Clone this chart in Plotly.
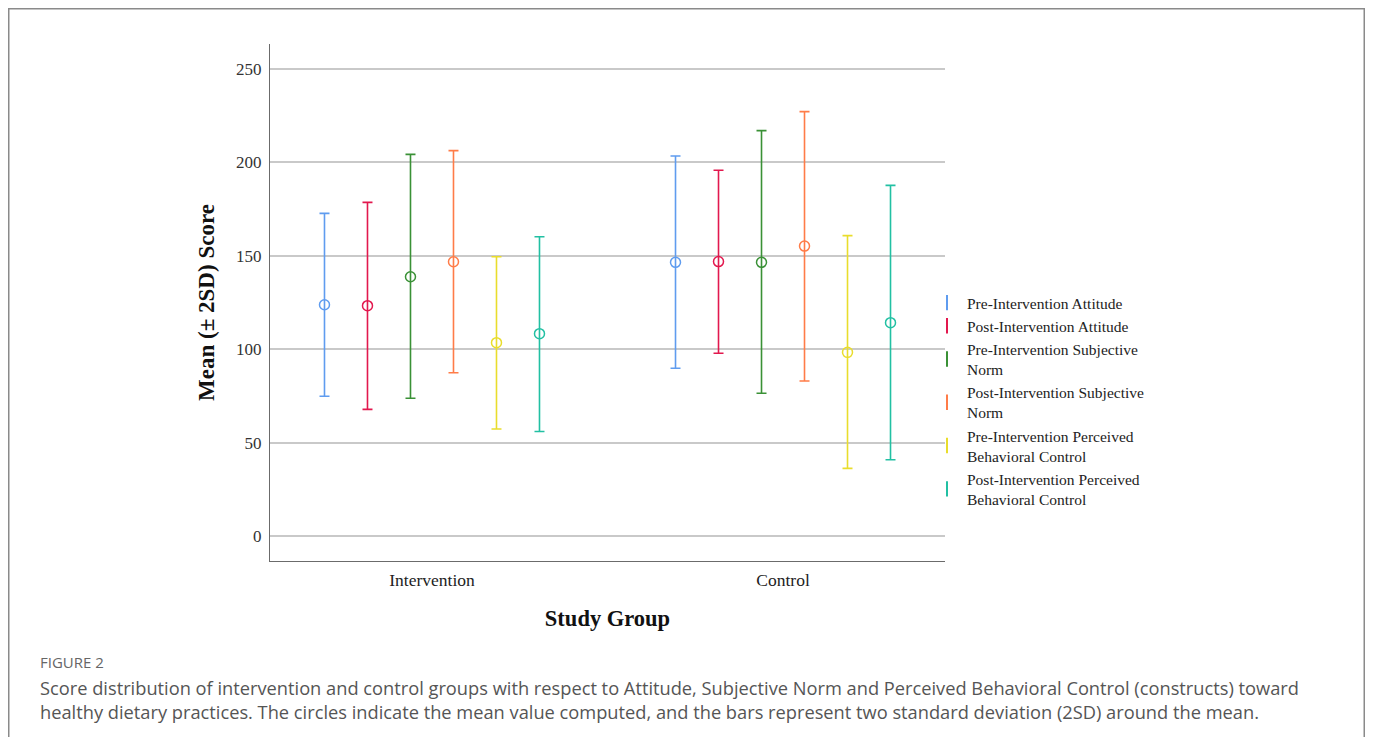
import plotly.graph_objects as go

groups = ["Intervention", "Control"]
series = [
    "Pre-Intervention Attitude",
    "Post-Intervention Attitude",
    "Pre-Intervention Subjective Norm",
    "Post-Intervention Subjective Norm",
    "Pre-Intervention Perceived Behavioral Control",
    "Post-Intervention Perceived Behavioral Control",
]
legend_labels = [
    "Pre-Intervention Attitude",
    "Post-Intervention Attitude",
    "Pre-Intervention Subjective<br>Norm",
    "Post-Intervention Subjective<br>Norm",
    "Pre-Intervention Perceived<br>Behavioral Control",
    "Post-Intervention Perceived<br>Behavioral Control",
]
colors = ["#5f9cef", "#e2184e", "#3a9136", "#ff7c48", "#e9dd2c", "#22c0a3"]

# [Intervention, Control]
means = [
    [123.8, 146.5],
    [123.3, 146.9],
    [138.8, 146.5],
    [146.8, 155.2],
    [103.5, 98.3],
    [108.3, 114.2],
]
uppers = [
    [172.7, 203.4],
    [178.6, 195.8],
    [204.3, 217.0],
    [206.3, 227.2],
    [149.5, 160.8],
    [160.2, 187.7],
]
lowers = [
    [74.8, 89.8],
    [67.8, 97.8],
    [73.7, 76.4],
    [87.4, 83.0],
    [57.3, 36.2],
    [55.9, 40.8],
]

y_ticks = [0, 50, 100, 150, 200, 250]
caption_title = "FIGURE 2"
caption_text = ("Score distribution of intervention and control groups with respect to Attitude, Subjective Norm and "
                "Perceived Behavioral Control (constructs) toward<br>healthy dietary practices. The circles indicate the "
                "mean value computed, and the bars represent two standard deviation (2SD) around the mean.")

SERIF = "Liberation Serif, Times New Roman, serif"
SANS = "Open Sans, Noto Sans, sans-serif"
offset_step = 0.1225

fig = go.Figure()
n = len(series)
for i in range(n):
    off = (i - (n - 1) / 2) * offset_step
    xs = [g + off for g in range(len(groups))]
    plus = [u - m for u, m in zip(uppers[i], means[i])]
    minus = [m - l for m, l in zip(means[i], lowers[i])]
    fig.add_trace(go.Scatter(
        x=xs, y=means[i], mode="markers", name=series[i], showlegend=False,
        marker=dict(symbol="circle-open", size=10, color=colors[i], line=dict(width=1.5, color=colors[i])),
        error_y=dict(type="data", symmetric=False, array=plus, arrayminus=minus,
                     color=colors[i], thickness=1.6, width=5),
        hoverinfo="skip",
    ))
    # legend entry
    fig.add_trace(go.Scatter(
        x=[None], y=[None], mode="markers", name=legend_labels[i], showlegend=True,
        marker=dict(symbol="line-ns", size=11, color=colors[i], line=dict(width=2, color=colors[i])),
    ))

# page body has an 8px margin: convert screen pixels to figure pixels
OFF = 8
W, H = 1373 - 2 * OFF, 745 - 2 * OFF
L, R, T, B = 270 - OFF, 945 - OFF, 44 - OFF, 561 - OFF
pw, ph = R - L, B - T

def px_x(sx):
    return (sx - OFF - L) / pw

def px_y(sy):
    return (B - (sy - OFF)) / ph

fig.update_layout(
    width=W, height=H,
    margin=dict(l=L, r=W - R, t=T, b=H - B, pad=0),
    paper_bgcolor="white", plot_bgcolor="white",
    font=dict(family=SERIF, color="#222222", size=15),
    showlegend=True,
    legend=dict(x=px_x(927), y=px_y(286), xanchor="left", yanchor="top",
                font=dict(family=SERIF, size=15.5, color="#222222"),
                bgcolor="rgba(0,0,0,0)", borderwidth=0, tracegroupgap=0,
                itemwidth=30),
    xaxis=dict(
        range=[-0.4615, 1.4615], tickmode="array", tickvals=[0, 1], ticktext=groups,
        showgrid=False, zeroline=False, showline=True, linecolor="#6b6b6b", linewidth=1.2,
        ticks="", tickfont=dict(family=SERIF, size=17.5, color="#222222"), ticklabelstandoff=3,
        title=dict(text="<b>Study Group</b>", font=dict(family=SERIF, size=22.5, color="#111111"), standoff=21),
    ),
    yaxis=dict(
        range=[-13.4, 263.4], tickmode="array", tickvals=y_ticks,
        showgrid=True, gridcolor="#c9c9c9", gridwidth=1.5, zeroline=False,
        showline=True, linecolor="#6b6b6b", linewidth=1.2, ticks="",
        tickfont=dict(family=SERIF, size=17, color="#333333"), ticklabelstandoff=4,
        title=dict(text="<b>Mean (± 2SD) Score</b>", font=dict(family=SERIF, size=23, color="#111111"), standoff=14),
    ),
)

# outer frame (open at the bottom)
fx0, fx1 = px_x(OFF + 0.75), px_x(OFF + W - 0.75)
fy_top, fy_bot = px_y(OFF + 0.75), px_y(OFF + H + 10)
fig.add_shape(type="path", xref="paper", yref="paper",
              path=f"M {fx0} {fy_bot} L {fx0} {fy_top} L {fx1} {fy_top} L {fx1} {fy_bot}",
              line=dict(color="#8a8a8a", width=1.5), layer="below")

fig.add_annotation(xref="paper", yref="paper", x=px_x(38), y=px_y(650), xanchor="left", yanchor="top",
                   text=caption_title, showarrow=False,
                   font=dict(family=SANS, size=15, color="#666666"))
fig.add_annotation(xref="paper", yref="paper", x=px_x(38), y=px_y(673), xanchor="left", yanchor="top",
                   text=caption_text, showarrow=False, align="left",
                   font=dict(family=SANS, size=18.25, color="#555555"))

fig.write_html("out.html")
